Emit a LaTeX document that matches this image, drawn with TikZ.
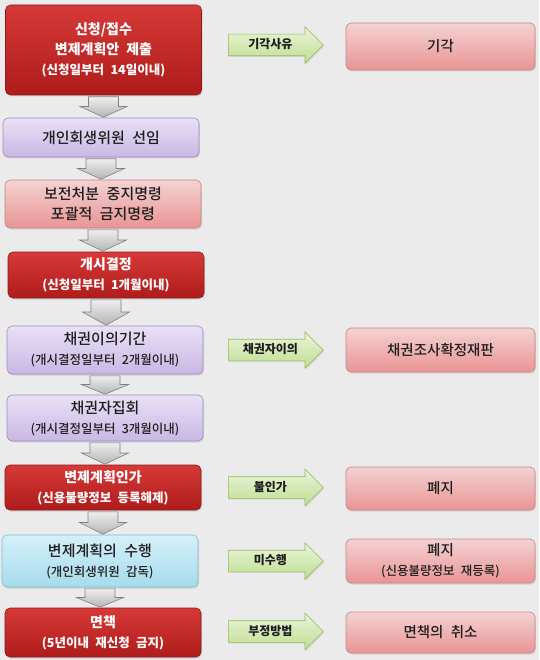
\documentclass[tikz,border=0pt]{standalone}
\usepackage{fontspec}
\setmainfont{Noto Sans CJK KR}[WordSpace=2.2]
\newfontfamily\krmed{Noto Sans CJK KR Medium}[WordSpace=2.2]
\usetikzlibrary{shapes.arrows,shadows,calc}
\definecolor{bgc}{HTML}{EBEBEB}
\definecolor{redT}{HTML}{D63A38}
\definecolor{redD}{HTML}{AE1C1B}
\definecolor{redB}{HTML}{8E1A18}
\definecolor{purT}{HTML}{E9E1F5}
\definecolor{purD}{HTML}{C8B7E4}
\definecolor{purB}{HTML}{9C8CC2}
\definecolor{pinkT}{HTML}{F4D2D2}
\definecolor{pinkD}{HTML}{E99494}
\definecolor{pinkB}{HTML}{C58585}
\definecolor{cyT}{HTML}{D4F0F9}
\definecolor{cyD}{HTML}{A6DBEC}
\definecolor{cyB}{HTML}{7DBDD2}
\definecolor{grT}{HTML}{EBF4DA}
\definecolor{grD}{HTML}{C0DD92}
\definecolor{grB}{HTML}{97B858}
\definecolor{gyT}{HTML}{EEEEEE}
\definecolor{gyD}{HTML}{B4B4B4}
\definecolor{gyB}{HTML}{808080}
\definecolor{txt}{HTML}{1E1E1E}
\newcommand\psz{\fontsize{12.5}{20}\selectfont}
\newcommand\dnarrow[2]{%
  \draw[grayarr] let \p1=(#1.south), \p2=(#2.north),
    \p3=($(#1.south)!0.5!(#2.north)$) in
    (\x1-15pt,\y1-1.5pt) -- (\x1+15pt,\y1-1.5pt) -- (\x1+15pt,\y3)
    -- (\x1+23.5pt,\y3) -- (\x1,\y2+0.5pt) -- (\x1-23.5pt,\y3)
    -- (\x1-15pt,\y3) -- cycle;}
\begin{document}
\begin{tikzpicture}[x=1pt,y=-1pt,
  box/.style={rectangle, rounded corners=5pt, align=center, inner sep=2pt,
    line width=0.6pt, drop shadow={opacity=0.22, shadow xshift=1pt, shadow yshift=-1.5pt}},
  lbox/.style={box, minimum width=196pt},
  rbox/.style={box, minimum width=189pt, draw=pinkB, top color=pinkT, bottom color=pinkD, text=txt,
    font=\krmed\fontsize{14.5}{20}\selectfont},
  redbox/.style={lbox, draw=redB, top color=redT, bottom color=redD, text=white,
    font=\bfseries\fontsize{14}{20}\selectfont},
  lightfont/.style={text=txt, font=\krmed\fontsize{15}{20}\selectfont},
  purbox/.style={lbox, draw=purB, top color=purT, bottom color=purD, lightfont},
  pinkbox/.style={lbox, draw=pinkB, top color=pinkT, bottom color=pinkD, lightfont},
  cybox/.style={lbox, draw=cyB, top color=cyT, bottom color=cyD, lightfont},
  grayarr/.style={draw=gyB, line width=0.6pt, top color=gyT, bottom color=gyD},
  garrow/.style={single arrow, anchor=tail, minimum height=95pt,
    single arrow head extend=7.5pt, text height=9pt, text depth=2pt,
    inner ysep=5pt, inner xsep=4pt, draw=grB, line width=0.6pt,
    top color=grT, bottom color=grD,
    text=txt, font=\fontsize{12}{14}\selectfont\bfseries,
    drop shadow={opacity=0.18, shadow xshift=1pt, shadow yshift=-1.2pt}}
]
\fill[bgc] (0,0) rectangle (539,660);
% left column
\node[redbox, minimum height=90pt] (b1) at (103.5,50) {신청/접수\\변제계획안 제출\\{\psz (신청일부터 14일이내)}};
\node[purbox, minimum height=39pt] (b2) at (101,137.5) {개인회생위원 선임};
\node[pinkbox, minimum height=48pt] (b3) at (103,204) {보전처분 중지명령\\포괄적 금지명령};
\node[redbox, minimum height=46pt] (b4) at (106,275) {개시결정\\{\psz (신청일부터 1개월이내)}};
\node[purbox, minimum height=48pt] (b5) at (105,350) {채권이의기간\\{\psz (개시결정일부터 2개월이내)}};
\node[purbox, minimum height=46pt] (b6) at (105,418) {채권자집회\\{\psz (개시결정일부터 3개월이내)}};
\node[redbox, minimum height=45pt] (b7) at (103,487.5) {변제계획인가\\{\psz (신용불량정보 등록해제)}};
\node[cybox, minimum height=52pt] (b8) at (100,561) {변제계획의 수행\\{\psz (개인회생위원 감독)}};
\node[redbox, minimum height=49pt] (b9) at (103,632.5) {면책\\{\psz (5년이내 재신청 금지)}};
\dnarrow{b1}{b2}
\dnarrow{b2}{b3}
\dnarrow{b3}{b4}
\dnarrow{b4}{b5}
\dnarrow{b5}{b6}
\dnarrow{b6}{b7}
\dnarrow{b7}{b8}
\dnarrow{b8}{b9}
% right column
\node[rbox, minimum height=47pt] (r1) at (440.5,46.5) {기각};
\node[rbox, minimum height=44pt] (r2) at (440.5,350) {채권조사확정재판};
\node[rbox, minimum height=43pt] (r3) at (440.5,488.5) {폐지};
\node[rbox, minimum height=44pt] (r4) at (440.5,561) {폐지\\{\psz (신용불량정보 재등록)}};
\node[rbox, minimum height=41pt] (r5) at (440.5,632.5) {면책의 취소};
% green arrows
\node[garrow] (g1) at (228,45) {기각사유};
\node[garrow] (g2) at (228,350) {채권자이의};
\node[garrow] (g3) at (228,487.5) {불인가};
\node[garrow] (g4) at (228,561) {미수행};
\node[garrow] (g5) at (228,631.5) {부정방법};
\end{tikzpicture}
\end{document}
